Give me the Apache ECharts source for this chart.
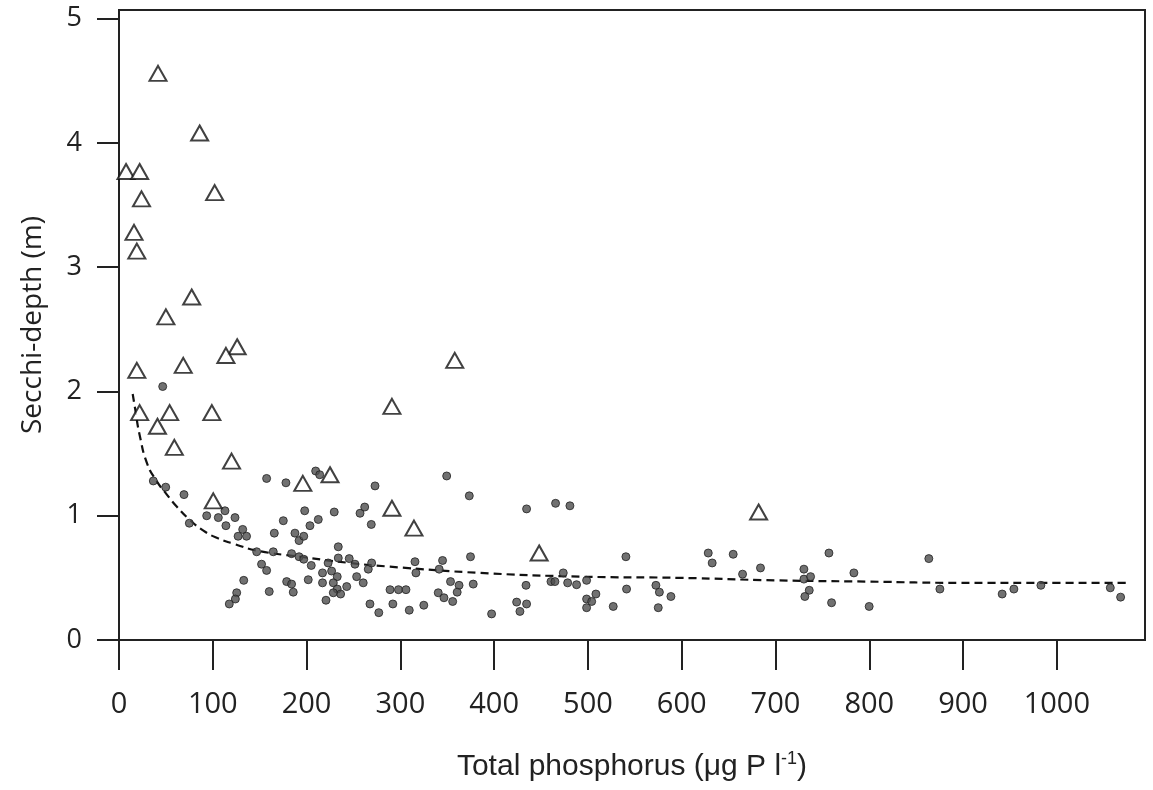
<!DOCTYPE html>
<html>
<head>
<meta charset="utf-8">
<script src="https://cdn.jsdelivr.net/npm/echarts@6/dist/echarts.min.js"></script>
<style>html,body{margin:0;padding:0;background:#fff;}#c{width:1153px;height:790px;}</style>
</head>
<body>
<div id="c"></div>
<script>
// Open triangles: [total phosphorus, secchi depth]
const triangles = [
  [41.6,4.56],[86,4.08],[7.5,3.77],[22,3.77],[24,3.55],[102,3.6],[16,3.28],[19,3.13],
  [77.5,2.76],[50,2.60],[126,2.36],[114,2.29],[19,2.17],[68.5,2.21],[358,2.25],
  [22,1.83],[54,1.83],[41,1.72],[99,1.83],[59,1.55],[120,1.44],[291,1.88],
  [196,1.26],[225,1.33],[100.5,1.12],[291,1.06],[314.5,0.90],[448,0.70],[682,1.03]
];
// Filled dots
const dots = [
  [46.6,2.04],[36.6,1.28],[49.8,1.23],[69.3,1.17],[75,0.94],[93.5,1.00],[105.9,0.985],[113,1.04],
  [114,0.92],[123.7,0.985],[131.9,0.89],[127,0.835],[136,0.835],[146.8,0.71],[157.4,1.30],[178,1.265],
  [209.7,1.36],[214,1.33],[273,1.24],[164.5,0.71],[152,0.61],[157.4,0.56],[165.6,0.86],[175.2,0.96],
  [187.6,0.86],[192,0.80],[197,0.835],[198,1.04],[203.6,0.92],[212.5,0.97],[229.5,1.03],[257,1.02],
  [262,1.07],[269,0.93],[184,0.695],[192,0.67],[197,0.65],[205,0.60],[223,0.62],[233.8,0.75],
  [233.8,0.66],[245.5,0.655],[251.6,0.61],[265.8,0.57],[269.4,0.62],[133,0.48],[125.5,0.38],[124.1,0.33],
  [117.6,0.29],[160.2,0.39],[178.8,0.47],[184,0.45],[185.8,0.385],[201.8,0.485],[217,0.54],[217,0.46],
  [226.7,0.555],[232.7,0.51],[228.5,0.46],[232.7,0.41],[236.3,0.37],[228.5,0.38],[220.7,0.32],[242.8,0.43],
  [253.4,0.51],[260.4,0.46],[267.6,0.29],[277,0.22],[289,0.405],[292,0.29],[298,0.405],[306,0.405],
  [309.5,0.24],[325,0.28],[315.6,0.63],[316.6,0.54],[349.4,1.32],[373.5,1.16],[345,0.64],[341.4,0.57],
  [353.5,0.47],[362.6,0.44],[360.6,0.385],[340.4,0.38],[346.5,0.34],[355.8,0.31],[374.8,0.67],[377.7,0.45],
  [397.3,0.21],[434.6,1.055],[434,0.44],[424,0.305],[427.5,0.23],[434.6,0.29],[465.5,1.10],[480.8,1.08],
  [460.6,0.47],[464.8,0.47],[473.7,0.54],[478.4,0.46],[487.9,0.445],[498.6,0.48],[498.6,0.33],[498.6,0.26],
  [504,0.31],[508.5,0.37],[527,0.27],[540.5,0.67],[541.2,0.41],[572.5,0.44],[576.2,0.385],[575,0.26],
  [588.5,0.35],[628.3,0.70],[632.5,0.62],[654.9,0.69],[664.9,0.53],[684,0.58],[730.3,0.57],[730.3,0.49],
  [737.4,0.51],[736,0.40],[731.3,0.35],[757,0.70],[759.8,0.30],[783.6,0.54],[799.9,0.27],[863.5,0.655],
  [875.3,0.41],[941.7,0.37],[954.2,0.41],[983,0.44],[1057,0.42],[1068,0.345]
];
// Dashed fitted curve
const curve = [
  [14.6,1.98],[17,1.87],[22,1.65],[30,1.42],[40,1.28],[50,1.18],[62,1.07],[75,0.97],[90,0.88],
  [105,0.82],[122,0.775],[147,0.72],[193,0.67],[246,0.62],[289,0.59],[385,0.54],[492,0.51],
  [598,0.50],[700,0.48],[800,0.47],[897,0.46],[1000,0.46],[1078,0.46]
];
const xTicks = [0,100,200,300,400,500,600,700,800,900,1000];
const yTicks = [0,1,2,3,4,5];

const title = "'Liberation Sans',Arial,sans-serif";
const human = "'Open Sans',sans-serif";
const chart = echarts.init(document.getElementById('c'), null, {renderer:'canvas'});
chart.setOption({
  backgroundColor:'#fff',
  animation:false,
  grid:{left:119,right:8,top:10,bottom:150,show:true,borderColor:'#222',borderWidth:2,backgroundColor:'transparent'},
  xAxis:{
    type:'value',min:0,max:1094,
    axisLine:{show:true,lineStyle:{color:'#222',width:2}},
    splitLine:{show:false},
    axisTick:{show:true,length:30,lineStyle:{color:'#222',width:2},customValues:xTicks},
    axisLabel:{customValues:xTicks,margin:50,fontFamily:human,fontSize:29,color:'#222',
      formatter:function(v){return String(v);}},
    name:'{a|Total phosphorus (μg P l}{s|-1}{a|)}',
    nameLocation:'middle',nameGap:110,
    nameTextStyle:{rich:{
      a:{fontFamily:title,fontSize:30,color:'#222',lineHeight:34},
      s:{fontFamily:title,fontSize:18,color:'#222',verticalAlign:'top',lineHeight:18}
    }}
  },
  yAxis:{
    type:'value',min:0,max:5.07,
    axisLine:{show:true,lineStyle:{color:'#222',width:2}},
    splitLine:{show:false},
    axisTick:{show:true,length:22,lineStyle:{color:'#222',width:2},customValues:yTicks},
    axisLabel:{customValues:yTicks,margin:37,fontFamily:human,fontSize:27,color:'#222'},
    name:'Secchi-depth (m)',nameLocation:'middle',nameGap:72,
    nameTextStyle:{fontFamily:human,fontSize:28,color:'#222'}
  },
  series:[
    {type:'line',data:curve,showSymbol:false,smooth:true,
     lineStyle:{color:'#111',width:2.2,type:[8,5]},z:1},
    {type:'scatter',data:dots,symbol:'circle',symbolSize:8,
     itemStyle:{color:'#4d4d4d',borderColor:'#222',borderWidth:1},z:2},
    {type:'scatter',data:triangles,symbol:'triangle',symbolSize:[17,15],
     itemStyle:{color:'#fff',borderColor:'#111',borderWidth:2},z:3}
  ]
});
</script>
</body>
</html>
